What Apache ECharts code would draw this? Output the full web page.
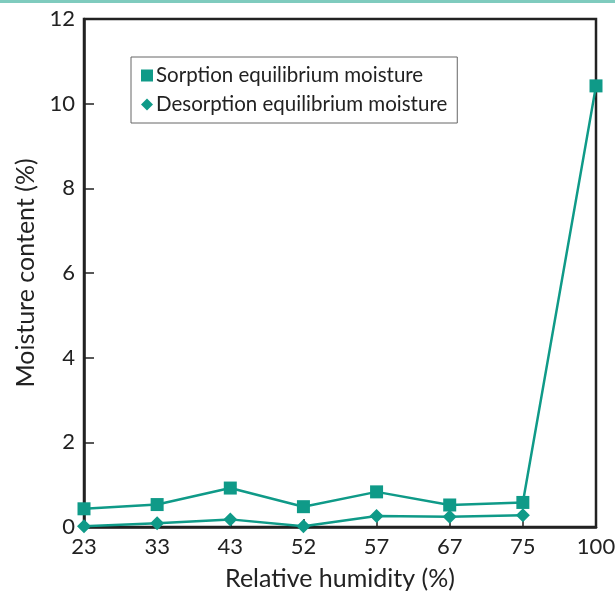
<!DOCTYPE html>
<html><head><meta charset="utf-8">
<script src="https://cdn.jsdelivr.net/npm/echarts@6/dist/echarts.min.js"></script>
<style>html,body{margin:0;padding:0;background:#fff}#c{width:615px;height:593px}
#strip{position:absolute;left:0;top:0;width:615px;height:3px;background:#7fcbbe;z-index:2}</style>
</head><body><div id="strip"></div><div id="c"></div>
<script>
const categories = ['23','33','43','52','57','67','75','100'];
const sorption = [0.43, 0.53, 0.92, 0.48, 0.83, 0.52, 0.58, 10.42];
const desorption = [0.02, 0.09, 0.18, 0.02, 0.26, 0.24, 0.28];
const yTicks = [0, 2, 4, 6, 8, 10, 12];
const teal = '#0f9a88';
const font = 'Lato, "Open Sans", sans-serif';
const chart = echarts.init(document.getElementById('c'));
chart.setOption({
  animation: false,
  grid: {left: 84, right: 19, top: 19, bottom: 66, show: true, borderColor: '#222', borderWidth: 2.5,
         containLabel: false, outerBoundsMode: 'none'},
  legend: {
    left: 131, top: 57, width: 330, orient: 'vertical',
    padding: [8, 10, 8, 10], itemGap: 8,
    borderColor: '#666', borderWidth: 1,
    itemWidth: 12, itemHeight: 12,
    textStyle: {fontFamily: font, fontSize: 20.5, color: '#222', padding: [0,0,0,-2]},
    data: [{name: 'Sorption equilibrium moisture', icon: 'rect'}, {name: 'Desorption equilibrium moisture', icon: 'diamond'}]
  },
  xAxis: {
    type: 'category', data: categories, boundaryGap: false,
    name: 'Relative humidity (%)', nameLocation: 'middle', nameGap: 39,
    nameTextStyle: {fontFamily: font, fontSize: 25, color: '#222'},
    axisLine: {lineStyle: {color: '#222', width: 2.5}},
    axisTick: {inside: true, length: 8, lineStyle: {color: '#222', width: 1.5}},
    axisLabel: {fontFamily: font, fontSize: 22, color: '#222', margin: 9}
  },
  yAxis: {
    type: 'value', min: 0, max: 12, interval: 2,
    name: 'Moisture content (%)', nameLocation: 'middle', nameGap: 42,
    nameTextStyle: {fontFamily: font, fontSize: 25, color: '#222'},
    splitLine: {show: false},
    axisLine: {show: true, lineStyle: {color: '#222', width: 2.5}},
    axisTick: {show: true, inside: true, length: 10, lineStyle: {color: '#222', width: 1.5}},
    axisLabel: {fontFamily: font, fontSize: 22, color: '#222', margin: 9,
      formatter: v => yTicks.includes(v) ? String(v) : ''}
  },
  series: [
    {name: 'Sorption equilibrium moisture', type: 'line', data: sorption,
     symbol: 'rect', symbolSize: 13, lineStyle: {color: teal, width: 2.5},
     itemStyle: {color: teal}},
    {name: 'Desorption equilibrium moisture', type: 'line', data: desorption,
     symbol: 'diamond', symbolSize: 14, lineStyle: {color: teal, width: 2.5},
     itemStyle: {color: teal}}
  ]
});
</script></body></html>
